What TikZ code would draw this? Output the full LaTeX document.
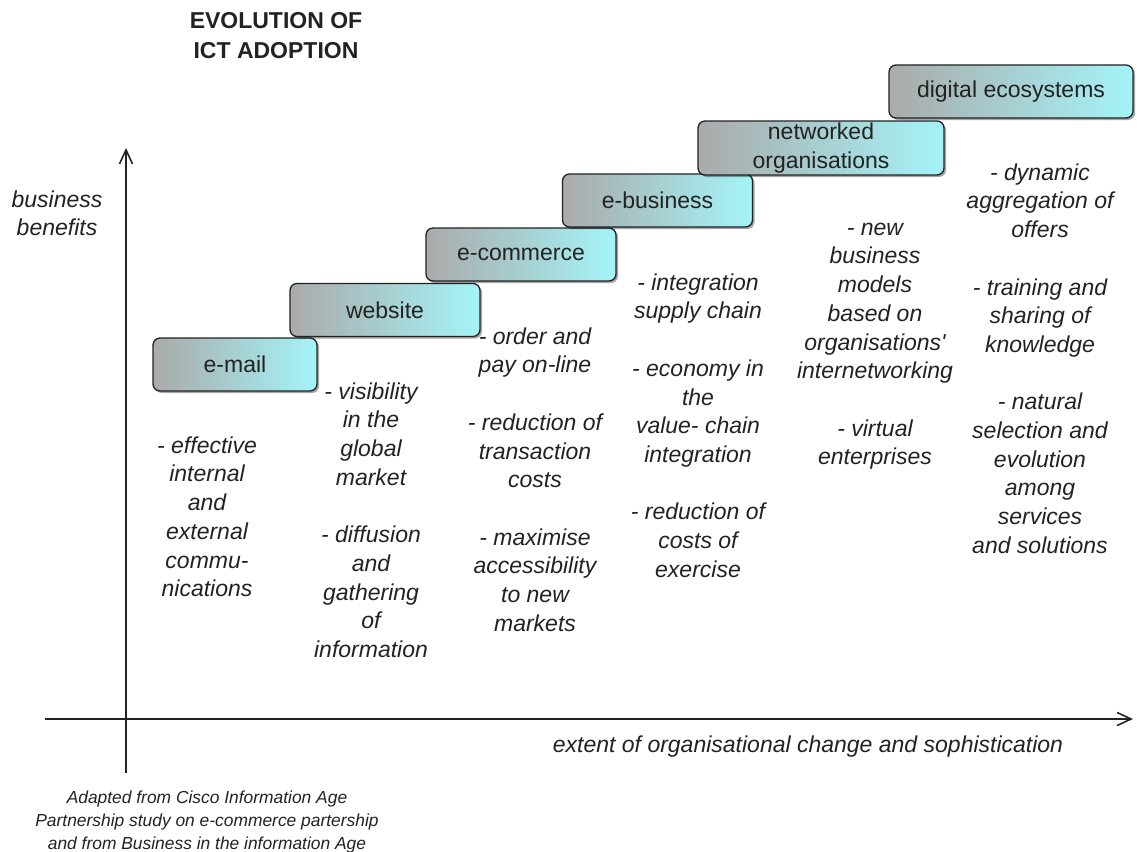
\documentclass[tikz,border=0pt]{standalone}
\usepackage{fontspec}
\setmainfont{Liberation Sans}
\usepackage{xcolor}
\usetikzlibrary{arrows.meta,shadows}

\definecolor{stepgray}{RGB}{170,170,170}
\definecolor{stepcyan}{RGB}{164,244,248}
\definecolor{inkgray}{RGB}{34,34,34}

\tikzset{
	stage/.style={draw=inkgray, line width=1.3pt, rounded corners=7pt,
		left color=stepgray, right color=stepcyan,
		minimum height=53pt, inner sep=0pt, align=center, text=inkgray,
		font=\fontsize{23}{29}\selectfont,
		drop shadow={shadow xshift=2pt, shadow yshift=-2pt, opacity=0.35, fill=black}},
	notes/.style={align=center, anchor=north, inner sep=0pt, text=inkgray,
		font=\fontsize{23}{28.7}\selectfont\itshape},
	axis/.style={draw=inkgray, line width=1.6pt},
}

\begin{document}
\begin{tikzpicture}[x=1pt, y=-1pt]
			
			\useasboundingbox (0,0) rectangle (1137,851);
			
			% Title
			\node[align=center, inner sep=0pt, text=inkgray, font=\fontsize{23}{29.5}\selectfont\bfseries] (title) at (276,35.5) {EVOLUTION OF\\ICT ADOPTION};
			
			% Axes
			\coordinate (ybot) at (126,773);
			\coordinate (ytop) at (126,148);
			\coordinate (xleft) at (45,719);
			\coordinate (xright) at (1133,719);
			\draw[axis, -{Straight Barb[length=14pt, width=13pt]}] (ybot) -- (ytop);
			\draw[axis, -{Straight Barb[length=14pt, width=13pt]}] (xleft) -- (xright);
			\node[notes] (ylabel) at (57,187) {\strut business\\benefits};
			\node[inner sep=0pt, text=inkgray, font=\fontsize{23}{28.7}\selectfont\itshape] (xlabel) at (808,747) {extent of organisational change and sophistication};
			
			% Stages of adoption
			\node[stage, minimum width=164pt] (email) at (235,364.5) {e-mail};
			\node[stage, minimum width=190pt] (website) at (385,310) {website};
			\node[stage, minimum width=190pt] (ecommerce) at (521,254.5) {e-commerce};
			\node[stage, minimum width=190pt] (ebusiness) at (657.5,200.5) {e-business};
			\node[stage, minimum width=246pt, minimum height=54pt] (networked) at (821,148) {networked\\organisations};
			\node[stage, minimum width=244pt] (ecosys) at (1011,91.5) {digital ecosystems};
			
			% Benefits under each stage
			\node[notes] (email-txt) at (207,433) {\strut - effective\\internal\\and\\external\\commu-\\nications};
			\node[notes] (website-txt) at (371,379) {\strut - visibility\\in the\\global\\market\\[\baselineskip]- diffusion\\and\\gathering\\of\\information};
			\node[notes] (ecommerce-txt) at (535,324) {\strut - order and\\pay on-line\\[\baselineskip]- reduction of\\transaction\\costs\\[\baselineskip]- maximise\\accessibility\\to new\\markets};
			\node[notes] (ebusiness-txt) at (698,270) {\strut - integration\\supply chain\\[\baselineskip]- economy in\\the\\value- chain\\integration\\[\baselineskip]- reduction of\\costs of\\exercise};
			\node[notes] (networked-txt) at (875,215) {\strut - new\\business\\models\\based on\\organisations\textquotesingle\\internetworking\\[\baselineskip]- virtual\\enterprises};
			\node[notes] (ecosys-txt) at (1040,160) {\strut - dynamic\\aggregation of\\offers\\[\baselineskip]- training and\\sharing of\\knowledge\\[\baselineskip]- natural\\selection and\\evolution\\among\\services\\and solutions};
			
			% Source
			\node[align=center, inner sep=0pt, text=inkgray, font=\fontsize{17.4}{23}\selectfont\itshape] (source) at (207,822) {Adapted from Cisco Information Age\\Partnership study on e-commerce partership\\and from Business in the information Age};
			
		\end{tikzpicture}
\end{document}
